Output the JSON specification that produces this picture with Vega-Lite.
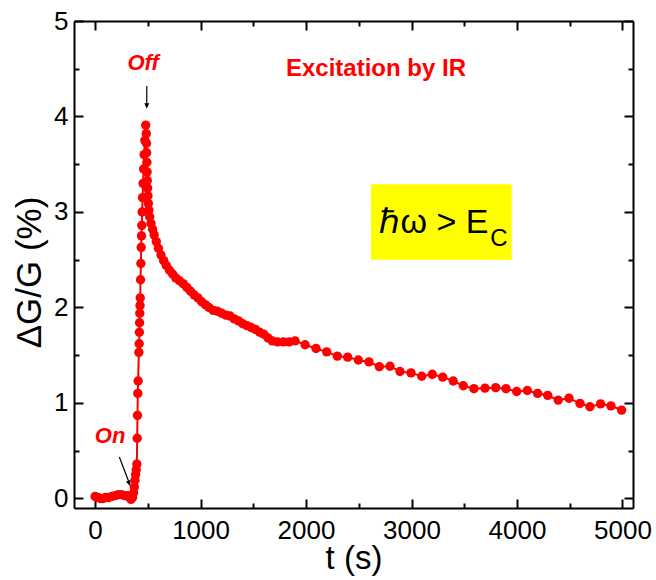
{
  "$schema": "https://vega.github.io/schema/vega-lite/v6.json",
  "autosize": "none",
  "width": 559,
  "height": 487,
  "padding": {"left": 74, "top": 21, "right": 23, "bottom": 72},
  "background": "white",
  "config": {
    "view": {"stroke": null},
    "axis": {"grid": false, "domainColor": "black", "tickColor": "black", "labelColor": "black", "titleColor": "black", "domainWidth": 2, "tickWidth": 2, "labelFont": "Liberation Sans", "titleFont": "Liberation Sans", "titleFontWeight": "normal"}
  },
  "datasets": {
    "main": [
      {"t": 0, "v": 0.02}, {"t": 25, "v": 0.01}, {"t": 50, "v": 0.0}, {"t": 75, "v": 0.0}, {"t": 100, "v": 0.01},
      {"t": 130, "v": 0.01}, {"t": 160, "v": 0.02}, {"t": 190, "v": 0.03}, {"t": 220, "v": 0.04}, {"t": 250, "v": 0.04},
      {"t": 280, "v": 0.03}, {"t": 305, "v": 0.03}, {"t": 325, "v": 0.01}, {"t": 340, "v": -0.01}, {"t": 355, "v": 0.01},
      {"t": 365, "v": 0.06}, {"t": 372, "v": 0.12}, {"t": 378, "v": 0.19}, {"t": 384, "v": 0.25}, {"t": 390, "v": 0.30},
      {"t": 396, "v": 0.36}, {"t": 399, "v": 0.63}, {"t": 402, "v": 0.87}, {"t": 405, "v": 1.10}, {"t": 408, "v": 1.23},
      {"t": 415, "v": 1.53}, {"t": 418, "v": 1.62}, {"t": 420, "v": 1.74}, {"t": 422, "v": 1.84}, {"t": 424, "v": 1.94},
      {"t": 426, "v": 2.02}, {"t": 428, "v": 2.10}, {"t": 431, "v": 2.29}, {"t": 434, "v": 2.46}, {"t": 437, "v": 2.63},
      {"t": 440, "v": 2.75}, {"t": 443, "v": 2.86}, {"t": 446, "v": 3.00}, {"t": 450, "v": 3.15}, {"t": 455, "v": 3.30},
      {"t": 460, "v": 3.45}, {"t": 465, "v": 3.60}, {"t": 472, "v": 3.75}, {"t": 480, "v": 3.91},
      {"t": 485, "v": 3.82}, {"t": 487, "v": 3.72}, {"t": 489, "v": 3.62}, {"t": 491, "v": 3.52}, {"t": 493, "v": 3.42},
      {"t": 495, "v": 3.33}, {"t": 498, "v": 3.25}, {"t": 501, "v": 3.17}, {"t": 505, "v": 3.09}, {"t": 510, "v": 3.02},
      {"t": 518, "v": 2.95}, {"t": 530, "v": 2.88}, {"t": 545, "v": 2.82}, {"t": 560, "v": 2.76}, {"t": 580, "v": 2.69},
      {"t": 600, "v": 2.62}, {"t": 625, "v": 2.55}, {"t": 650, "v": 2.49}, {"t": 675, "v": 2.44}, {"t": 705, "v": 2.39},
      {"t": 735, "v": 2.35}, {"t": 765, "v": 2.31}, {"t": 800, "v": 2.28}, {"t": 835, "v": 2.25}, {"t": 870, "v": 2.21},
      {"t": 905, "v": 2.17}, {"t": 940, "v": 2.13}, {"t": 975, "v": 2.10}, {"t": 1010, "v": 2.06}, {"t": 1045, "v": 2.03},
      {"t": 1080, "v": 2.00}, {"t": 1120, "v": 1.97}, {"t": 1160, "v": 1.96}, {"t": 1200, "v": 1.94}, {"t": 1240, "v": 1.92},
      {"t": 1280, "v": 1.91}, {"t": 1320, "v": 1.88}, {"t": 1360, "v": 1.86}, {"t": 1400, "v": 1.83}, {"t": 1440, "v": 1.81},
      {"t": 1480, "v": 1.79}, {"t": 1520, "v": 1.77}, {"t": 1560, "v": 1.74}, {"t": 1600, "v": 1.72}, {"t": 1640, "v": 1.68},
      {"t": 1680, "v": 1.65}, {"t": 1730, "v": 1.64}, {"t": 1785, "v": 1.64}, {"t": 1840, "v": 1.64}, {"t": 1896, "v": 1.65},
      {"t": 1991, "v": 1.61}, {"t": 2095, "v": 1.57}, {"t": 2196, "v": 1.535}, {"t": 2297, "v": 1.49}, {"t": 2395, "v": 1.48},
      {"t": 2496, "v": 1.45}, {"t": 2597, "v": 1.43}, {"t": 2695, "v": 1.38}, {"t": 2796, "v": 1.385}, {"t": 2891, "v": 1.33},
      {"t": 2995, "v": 1.315}, {"t": 3097, "v": 1.28}, {"t": 3197, "v": 1.30}, {"t": 3296, "v": 1.27}, {"t": 3396, "v": 1.23},
      {"t": 3491, "v": 1.18}, {"t": 3592, "v": 1.15}, {"t": 3697, "v": 1.155}, {"t": 3798, "v": 1.16}, {"t": 3896, "v": 1.15},
      {"t": 3997, "v": 1.12}, {"t": 4098, "v": 1.13}, {"t": 4196, "v": 1.10}, {"t": 4291, "v": 1.08}, {"t": 4391, "v": 1.03},
      {"t": 4493, "v": 1.05}, {"t": 4597, "v": 0.995}, {"t": 4692, "v": 0.96}, {"t": 4793, "v": 0.99}, {"t": 4891, "v": 0.97},
      {"t": 4992, "v": 0.925}
    ],
    "marks": [
      {"label": "Off", "t": 455, "v": 4.485},
      {"label": "On", "t": 142, "v": 0.576}
    ],
    "heading": [
      {"label": "Excitation by IR", "t": 2663, "v": 4.42}
    ],
    "arrows": [
      {"name": "off", "t": 490, "v": 4.32, "t2": 490, "v2": 4.12},
      {"name": "on", "t": 230, "v": 0.435, "t2": 325, "v2": 0.16}
    ],
    "offhead": [{"t": 490, "v": 4.08}],
    "onhead": [{"t": 332, "v": 0.13}],
    "box": [{"t": 2616, "t2": 3950, "v": 3.29, "v2": 2.50}],
    "boxtext": [{"label": "ℏω > E", "t": 3213, "v": 2.777}],
    "boxsub": [{"label": "C", "t": 3829, "v": 2.642}]
  },
  "resolve": {"axis": {"x": "independent", "y": "independent"}},
  "layer": [
    {
      "data": {"name": "box"},
      "mark": {"type": "rect", "color": "#ffff00"},
      "encoding": {
        "x": {"field": "t", "type": "quantitative", "scale": {"domain": [-200, 5100], "nice": false, "zero": false}, "axis": null},
        "x2": {"field": "t2"},
        "y": {"field": "v", "type": "quantitative", "scale": {"domain": [-0.1, 5], "nice": false, "zero": false}, "axis": null},
        "y2": {"field": "v2"}
      }
    },
    {
      "data": {"name": "main"},
      "mark": {"type": "line", "color": "#ff0000", "strokeWidth": 2},
      "encoding": {
        "x": {"field": "t", "type": "quantitative", "scale": {"domain": [-200, 5100], "nice": false, "zero": false},
          "axis": {"orient": "bottom", "values": [0, 1000, 2000, 3000, 4000, 5000], "format": "d", "ticks": false, "labelFontSize": 26, "labelPadding": 9, "labelFlush": false, "labelOverlap": false, "title": "t (s)", "titleFontSize": 33, "titlePadding": -1}},
        "y": {"field": "v", "type": "quantitative", "scale": {"domain": [-0.1, 5], "nice": false, "zero": false},
          "axis": {"orient": "left", "values": [0, 1, 2, 3, 4, 5], "format": "d", "ticks": false, "labelFontSize": 26, "labelPadding": 6, "labelFlush": false, "labelOverlap": false, "title": "ΔG/G (%)", "titleFontSize": 35, "titlePadding": 6, "titleY": 251}}
      }
    },
    {
      "data": {"name": "main"},
      "mark": {"type": "point", "filled": true, "color": "#ff0000", "opacity": 1, "size": 88},
      "encoding": {
        "x": {"field": "t", "type": "quantitative", "scale": {"domain": [-200, 5100], "nice": false, "zero": false},
          "axis": {"orient": "bottom", "values": [0, 1000, 2000, 3000, 4000, 5000], "tickSize": -9, "labels": false, "domain": false, "title": null}},
        "y": {"field": "v", "type": "quantitative", "scale": {"domain": [-0.1, 5], "nice": false, "zero": false},
          "axis": {"orient": "left", "values": [0, 1, 2, 3, 4, 5], "tickSize": -9, "labels": false, "domain": false, "title": null}}
      }
    },
    {
      "data": {"name": "marks"},
      "mark": {"type": "text", "color": "#ff0000", "font": "Liberation Sans", "fontSize": 22, "fontWeight": "bold", "fontStyle": "italic", "align": "center", "baseline": "alphabetic"},
      "encoding": {
        "x": {"field": "t", "type": "quantitative", "scale": {"domain": [-200, 5100], "nice": false, "zero": false},
          "axis": {"orient": "bottom", "values": [500, 1500, 2500, 3500, 4500], "tickSize": -5, "labels": false, "domain": false, "title": null}},
        "y": {"field": "v", "type": "quantitative", "scale": {"domain": [-0.1, 5], "nice": false, "zero": false},
          "axis": {"orient": "left", "values": [0.5, 1.5, 2.5, 3.5, 4.5], "tickSize": -5, "labels": false, "domain": false, "title": null}},
        "text": {"field": "label"}
      }
    },
    {
      "data": {"name": "heading"},
      "mark": {"type": "text", "color": "#ff0000", "font": "Liberation Sans", "fontSize": 24, "fontWeight": "bold", "align": "center", "baseline": "alphabetic"},
      "encoding": {
        "x": {"field": "t", "type": "quantitative", "scale": {"domain": [-200, 5100], "nice": false, "zero": false},
          "axis": {"orient": "top", "values": [0, 1000, 2000, 3000, 4000, 5000], "tickSize": -9, "labels": false, "domain": true, "title": null}},
        "y": {"field": "v", "type": "quantitative", "scale": {"domain": [-0.1, 5], "nice": false, "zero": false},
          "axis": {"orient": "right", "values": [0, 1, 2, 3, 4, 5], "tickSize": -9, "labels": false, "domain": true, "title": null}},
        "text": {"field": "label"}
      }
    },
    {
      "data": {"name": "arrows"},
      "mark": {"type": "rule", "color": "black", "strokeWidth": 1.2},
      "encoding": {
        "x": {"field": "t", "type": "quantitative", "scale": {"domain": [-200, 5100], "nice": false, "zero": false},
          "axis": {"orient": "top", "values": [500, 1500, 2500, 3500, 4500], "tickSize": -5, "labels": false, "domain": false, "title": null}},
        "y": {"field": "v", "type": "quantitative", "scale": {"domain": [-0.1, 5], "nice": false, "zero": false},
          "axis": {"orient": "right", "values": [0.5, 1.5, 2.5, 3.5, 4.5], "tickSize": -5, "labels": false, "domain": false, "title": null}},
        "x2": {"field": "t2"},
        "y2": {"field": "v2"}
      }
    },
    {
      "data": {"name": "offhead"},
      "mark": {"type": "point", "shape": "M0,0L-0.45,-1L0.45,-1Z", "filled": true, "color": "black", "opacity": 1, "size": 121, "angle": 0},
      "encoding": {
        "x": {"field": "t", "type": "quantitative", "scale": {"domain": [-200, 5100], "nice": false, "zero": false}, "axis": null},
        "y": {"field": "v", "type": "quantitative", "scale": {"domain": [-0.1, 5], "nice": false, "zero": false}, "axis": null}
      }
    },
    {
      "data": {"name": "onhead"},
      "mark": {"type": "point", "shape": "M0,0L-0.45,-1L0.45,-1Z", "filled": true, "color": "black", "opacity": 1, "size": 121, "angle": 340},
      "encoding": {
        "x": {"field": "t", "type": "quantitative", "scale": {"domain": [-200, 5100], "nice": false, "zero": false}, "axis": null},
        "y": {"field": "v", "type": "quantitative", "scale": {"domain": [-0.1, 5], "nice": false, "zero": false}, "axis": null}
      }
    },
    {
      "data": {"name": "boxtext"},
      "mark": {"type": "text", "color": "black", "font": "Liberation Sans", "fontSize": 34, "align": "center", "baseline": "alphabetic"},
      "encoding": {
        "x": {"field": "t", "type": "quantitative", "scale": {"domain": [-200, 5100], "nice": false, "zero": false}, "axis": null},
        "y": {"field": "v", "type": "quantitative", "scale": {"domain": [-0.1, 5], "nice": false, "zero": false}, "axis": null},
        "text": {"field": "label"}
      }
    },
    {
      "data": {"name": "boxsub"},
      "mark": {"type": "text", "color": "black", "font": "Liberation Sans", "fontSize": 24, "align": "center", "baseline": "alphabetic"},
      "encoding": {
        "x": {"field": "t", "type": "quantitative", "scale": {"domain": [-200, 5100], "nice": false, "zero": false}, "axis": null},
        "y": {"field": "v", "type": "quantitative", "scale": {"domain": [-0.1, 5], "nice": false, "zero": false}, "axis": null},
        "text": {"field": "label"}
      }
    }
  ]
}
